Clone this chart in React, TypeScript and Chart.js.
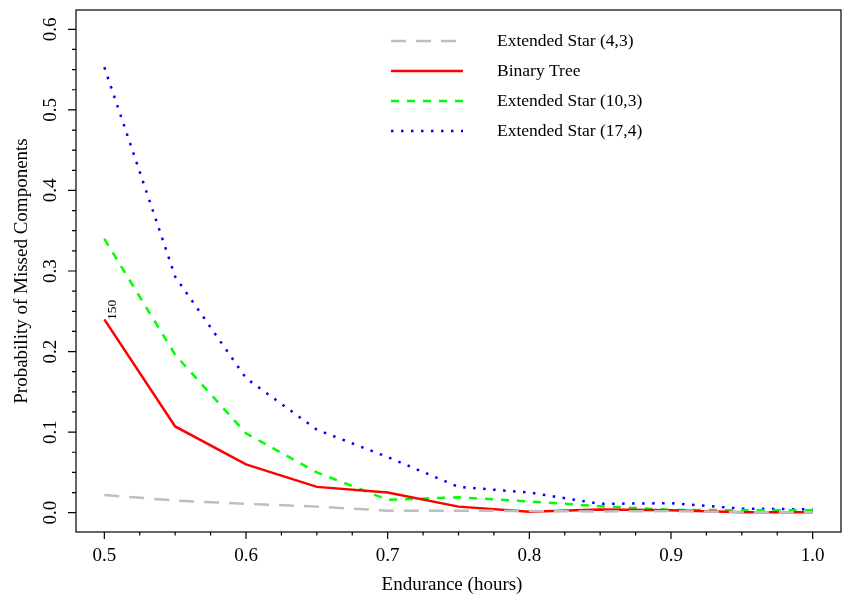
import React, { useEffect, useRef } from 'react';
import { Chart, registerables } from 'chart.js';

Chart.register(...registerables);

// ---- data ----
const endurance = [0.5, 0.55, 0.6, 0.65, 0.7, 0.75, 0.8, 0.85, 0.9, 0.95, 1.0];
const star43 = [0.022, 0.015, 0.011, 0.0075, 0.0025, 0.0025, 0.002, 0.0015, 0.002, 0.0005, 0.0005];
const binaryTree = [0.24, 0.107, 0.06, 0.032, 0.025, 0.0075, 0.001, 0.004, 0.003, 0.0005, 0.0005];
const star103 = [0.34, 0.196, 0.0985, 0.05, 0.016, 0.019, 0.014, 0.008, 0.0035, 0.003, 0.003];
const star174 = [0.553, 0.293, 0.167, 0.103, 0.069, 0.032, 0.025, 0.011, 0.0117, 0.005, 0.004];

const seriesLabels = ['Extended Star (4,3)', 'Binary Tree', 'Extended Star (10,3)', 'Extended Star (17,4)'];
const xTitle = 'Endurance (hours)';
const yTitle = 'Probability of Missed Components';

const xTicks = [0.5, 0.6, 0.7, 0.8, 0.9, 1.0];
const xMinorTicks = [0.525, 0.55, 0.575, 0.625, 0.65, 0.675, 0.725, 0.75, 0.775, 0.825, 0.85, 0.875, 0.925, 0.95, 0.975];
const yTicks = [0, 0.1, 0.2, 0.3, 0.4, 0.5, 0.6];
const yMinorTicks = [0.025, 0.05, 0.075, 0.125, 0.15, 0.175, 0.225, 0.25, 0.275, 0.325, 0.35, 0.375, 0.425, 0.45, 0.475, 0.525, 0.55, 0.575];

const annotationText = '150';
const annotationX = 0.5;
const annotationY = 0.24;

const FONT = "'Liberation Serif', 'Times New Roman', serif";

export default function App() {
  const ref = useRef<HTMLCanvasElement | null>(null);

  useEffect(() => {
    document.body.style.margin = '0';
    const canvas = ref.current;
    if (!canvas) return;

    const mk = (ys: number[]) => endurance.map((x, i) => ({ x, y: ys[i] }));

    const decorPlugin = {
      id: 'decor',
      afterDraw(chart: any) {
        const { ctx, chartArea } = chart;
        const xs = chart.scales.x;
        const ys = chart.scales.y;
        ctx.save();
        ctx.strokeStyle = '#000';
        ctx.lineWidth = 1.2;
        ctx.setLineDash([]);
        // box
        ctx.strokeRect(chartArea.left, chartArea.top, chartArea.right - chartArea.left, chartArea.bottom - chartArea.top);
        // tick marks
        ctx.beginPath();
        xTicks.forEach((v) => {
          const p = xs.getPixelForValue(v);
          ctx.moveTo(p, chartArea.bottom);
          ctx.lineTo(p, chartArea.bottom + 7);
        });
        xMinorTicks.forEach((v) => {
          const p = xs.getPixelForValue(v);
          ctx.moveTo(p, chartArea.bottom);
          ctx.lineTo(p, chartArea.bottom + 3.5);
        });
        yTicks.forEach((v) => {
          const p = ys.getPixelForValue(v);
          ctx.moveTo(chartArea.left, p);
          ctx.lineTo(chartArea.left - 8, p);
        });
        yMinorTicks.forEach((v) => {
          const p = ys.getPixelForValue(v);
          ctx.moveTo(chartArea.left, p);
          ctx.lineTo(chartArea.left - 4, p);
        });
        ctx.stroke();

        // x axis title
        ctx.font = `19px ${FONT}`;
        ctx.fillStyle = '#000';
        ctx.textAlign = 'center';
        ctx.textBaseline = 'middle';
        ctx.fillText(xTitle, (chartArea.left + chartArea.right) / 2 - 6.5, 585);

        // annotation
        const ax = xs.getPixelForValue(annotationX);
        const ay = ys.getPixelForValue(annotationY);
        ctx.save();
        ctx.translate(ax + 8.5, ay - 9.5);
        ctx.rotate(-Math.PI / 2);
        ctx.font = `13.5px ${FONT}`;
        ctx.fillStyle = '#000';
        ctx.textAlign = 'center';
        ctx.textBaseline = 'middle';
        ctx.fillText(annotationText, 0, 0);
        ctx.restore();

        // legend
        const lx0 = 391;
        const lx1 = 463;
        const tx = 497;
        const y0 = 41;
        const dy = 30;
        ctx.font = `17.5px ${FONT}`;
        ctx.textAlign = 'left';
        ctx.textBaseline = 'middle';
        chart.data.datasets.forEach((ds: any, i: number) => {
          const yy = y0 + i * dy;
          ctx.beginPath();
          ctx.strokeStyle = ds.borderColor;
          ctx.lineWidth = ds.borderWidth;
          ctx.setLineDash(ds.borderDash || []);
          ctx.moveTo(lx0, yy);
          ctx.lineTo(lx1, yy);
          ctx.stroke();
          ctx.setLineDash([]);
          ctx.fillStyle = '#000';
          ctx.fillText(ds.label, tx, yy);
        });
        ctx.restore();
      },
    };

    const chart = new Chart(canvas, {
      type: 'line',
      data: {
        datasets: [
          { label: seriesLabels[0], data: mk(star43), borderColor: '#bebebe', borderWidth: 2.5, borderDash: [15, 10] },
          { label: seriesLabels[1], data: mk(binaryTree), borderColor: '#ff0000', borderWidth: 2.5, borderDash: [] },
          { label: seriesLabels[2], data: mk(star103), borderColor: '#00ff00', borderWidth: 2.5, borderDash: [8, 8] },
          { label: seriesLabels[3], data: mk(star174), borderColor: '#0000ff', borderWidth: 2.5, borderDash: [2.5, 7.5] },
        ] as any,
      },
      plugins: [decorPlugin],
      options: {
        animation: false,
        responsive: false,
        devicePixelRatio: 1,
        layout: { padding: { top: 10, right: 2, left: 0, bottom: 0 } },
        elements: { point: { radius: 0 }, line: { tension: 0, borderCapStyle: 'butt' } },
        plugins: { legend: { display: false }, tooltip: { enabled: false } },
        font: { family: FONT } as any,
        scales: {
          x: {
            type: 'linear',
            min: 0.48,
            max: 1.02,
            afterBuildTicks: (s: any) => {
              s.ticks = xTicks.map((v) => ({ value: v }));
            },
            afterFit: (s: any) => {
              s.height = 63;
              s.paddingLeft = 0;
              s.paddingRight = 0;
            },
            ticks: {
              autoSkip: false,
              maxRotation: 0,
              padding: 12.5,
              color: '#000',
              font: { family: FONT, size: 19 },
              callback: (v: any) => Number(v).toFixed(1),
            },
            grid: { display: false, drawTicks: false },
            border: { display: false },
            title: { display: false },
          },
          y: {
            type: 'linear',
            min: -0.024,
            max: 0.624,
            afterBuildTicks: (s: any) => {
              s.ticks = yTicks.map((v) => ({ value: v }));
            },
            afterFit: (s: any) => {
              s.width = 76;
              s.paddingTop = 0;
              s.paddingBottom = 0;
            },
            ticks: {
              autoSkip: false,
              minRotation: 90,
              maxRotation: 90,
              crossAlign: 'center',
              padding: 13,
              color: '#000',
              font: { family: FONT, size: 19 },
              callback: (v: any) => Number(v).toFixed(1),
            },
            grid: { display: false, drawTicks: false },
            border: { display: false },
            title: {
              display: true,
              text: yTitle,
              color: '#000',
              font: { family: FONT, size: 19, lineHeight: 1 },
              padding: { top: 12.5, bottom: 0 },
            },
          },
        },
      } as any,
    });

    return () => chart.destroy();
  }, []);

  return (
    <div style={{ width: 843, height: 595 }}>
      <canvas ref={ref} width={843} height={595} style={{ display: 'block' }} />
    </div>
  );
}
